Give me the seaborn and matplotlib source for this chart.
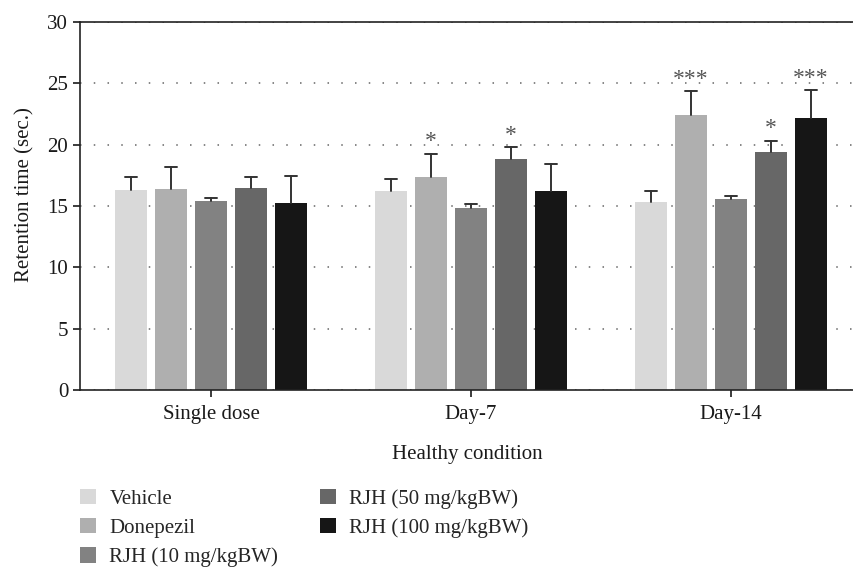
import matplotlib.pyplot as plt
import pandas as pd
import seaborn as sns
from matplotlib.patches import Patch

sns.set_theme(style="white")
plt.rcParams['font.family'] = ['Liberation Serif', 'DejaVu Serif']

# data
conditions = ['Single dose', 'Day-7', 'Day-14']
treatments = ['Vehicle', 'Donepezil', 'RJH (10 mg/kgBW)', 'RJH (50 mg/kgBW)', 'RJH (100 mg/kgBW)']
colors = ['#d9d9d9', '#afafaf', '#828282', '#676767', '#161616']

vehicle = [16.3, 16.2, 15.3]
donepezil = [16.4, 17.35, 22.4]
rjh10 = [15.4, 14.85, 15.55]
rjh50 = [16.45, 18.8, 19.4]
rjh100 = [15.25, 16.2, 22.15]

vehicle_err = [1.05, 1.0, 0.9]
donepezil_err = [1.8, 1.9, 1.95]
rjh10_err = [0.27, 0.28, 0.22]
rjh50_err = [0.92, 1.0, 0.92]
rjh100_err = [2.2, 2.2, 2.25]

vehicle_sig = ['', '', '']
donepezil_sig = ['', '*', '***']
rjh10_sig = ['', '', '']
rjh50_sig = ['', '*', '*']
rjh100_sig = ['', '', '***']

series = [vehicle, donepezil, rjh10, rjh50, rjh100]
errors = [vehicle_err, donepezil_err, rjh10_err, rjh50_err, rjh100_err]
sigs = [vehicle_sig, donepezil_sig, rjh10_sig, rjh50_sig, rjh100_sig]

rows = []
for t, vals, errs, ss in zip(treatments, series, errors, sigs):
    for c, v, e, s in zip(conditions, vals, errs, ss):
        rows.append({'Condition': c, 'Treatment': t, 'Value': v, 'Err': e, 'Sig': s})
df = pd.DataFrame(rows)

fig = plt.figure(figsize=(8.54, 5.67), dpi=100)
ax = fig.add_axes([0.0937, 0.312, 0.9063, 0.6497])

# dotted grid behind the bars
ax.set_axisbelow(True)
ax.yaxis.grid(True, color='#666666', linestyle=(0, (1, 8)), linewidth=1.1)
ax.xaxis.grid(False)

sns.barplot(data=df, x='Condition', y='Value', hue='Treatment', order=conditions,
            hue_order=treatments, palette=colors, errorbar=None, width=0.77, gap=0.2,
            saturation=1, linewidth=0, ax=ax, legend=False, zorder=2)

# one-sided error bars and significance marks placed on seaborn's bars
cap = 0.022
bars = [p for p in ax.patches if p.get_height() > 0]
for i, t in enumerate(treatments):
    sub = df[df['Treatment'] == t]
    for j, c in enumerate(conditions):
        bar = bars[i * len(conditions) + j]
        x = bar.get_x() + bar.get_width() / 2
        row = sub[sub['Condition'] == c].iloc[0]
        top = row['Value'] + row['Err']
        ax.plot([x, x], [row['Value'], top], color='#333333', lw=1.4, zorder=3)
        ax.plot([x - cap, x + cap], [top, top], color='#333333', lw=1.4, zorder=3)
        if row['Sig']:
            ax.annotate(row['Sig'], (x, top), xytext=(0, 1),
                        textcoords='offset points', ha='center', va='bottom',
                        fontsize=17, color='#555555')

ax.set_ylim(0, 30)
ax.set_yticks([0, 5, 10, 15, 20, 25, 30])
ax.set_xlim(-0.504, 2.473)
ax.set_ylabel('Retention time (sec.)', fontsize=15, color='#1a1a1a')
ax.yaxis.set_label_coords(-0.059, 0.53)
ax.set_xlabel('Healthy condition', fontsize=15, color='#1a1a1a', labelpad=15)
ax.tick_params(axis='both', labelsize=15, colors='#1a1a1a', length=5, width=1.2,
               direction='out', left=True, bottom=True)
ax.tick_params(axis='x', pad=6)
for side in ['left', 'bottom', 'top']:
    ax.spines[side].set_visible(True)
    ax.spines[side].set_color('#222222')
    ax.spines[side].set_linewidth(1.2)
ax.spines['right'].set_visible(False)

handles = [Patch(facecolor=col, edgecolor='none', label=t) for t, col in zip(treatments, colors)]
fig.legend(handles=handles, loc='upper left', bbox_to_anchor=(0.094, 0.138), ncol=2,
           frameon=False, fontsize=15, handlelength=0.75, handleheight=0.75,
           handletextpad=0.65, labelspacing=0.45, columnspacing=2.0,
           borderaxespad=0, borderpad=0)

fig.savefig('out.png', dpi=100)
